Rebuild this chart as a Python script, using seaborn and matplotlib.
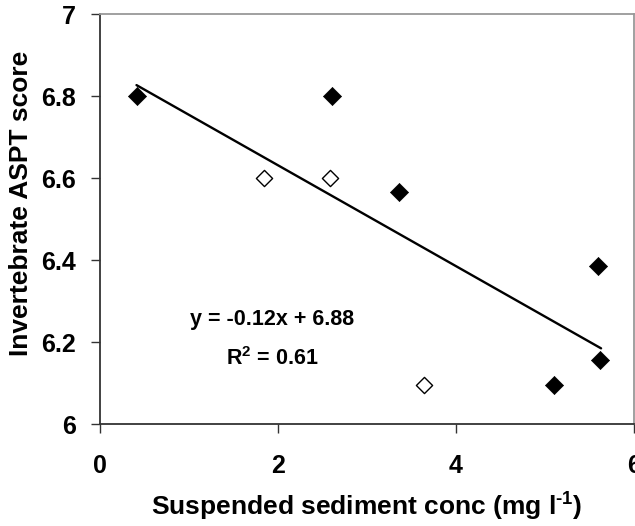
import numpy as np
import pandas as pd
import matplotlib
matplotlib.use("Agg")
import matplotlib.pyplot as plt
import seaborn as sns

# Sites (suspended sediment vs. ASPT score)
filled_x = [0.42, 2.61, 3.36, 5.10, 5.59, 5.62]
filled_y = [6.80, 6.80, 6.565, 6.095, 6.385, 6.155]
open_x = [1.84, 2.585, 3.645]
open_y = [6.60, 6.60, 6.095]

# Linear trend
slope = -0.123
intercept = 6.877
r_squared = 0.61
trend_range = [0.41, 5.63]

x_ticks = [0, 2, 4, 6]
y_ticks = [6.0, 6.2, 6.4, 6.6, 6.8, 7.0]
y_tick_labels = ["6", "6.2", "6.4", "6.6", "6.8", "7"]

sns.set_theme(style="white")
plt.rcParams["font.family"] = ["Liberation Sans", "DejaVu Sans"]
plt.rcParams["font.weight"] = "bold"
plt.rcParams["text.color"] = "black"
plt.rcParams["axes.labelcolor"] = "black"
plt.rcParams["xtick.labelcolor"] = "black"
plt.rcParams["ytick.labelcolor"] = "black"
plt.rcParams["mathtext.fontset"] = "custom"
plt.rcParams["mathtext.rm"] = "Liberation Sans:bold"
plt.rcParams["mathtext.it"] = "Liberation Sans:bold"
plt.rcParams["mathtext.bf"] = "Liberation Sans:bold"

fig = plt.figure(figsize=(6.35, 5.26), dpi=100)
ax = fig.add_axes([100 / 635, (526 - 424) / 526, 534 / 635, 410 / 526])

filled = pd.DataFrame({"x": filled_x, "y": filled_y})
hollow = pd.DataFrame({"x": open_x, "y": open_y})
trend = pd.DataFrame({"x": trend_range,
                      "y": [slope * v + intercept for v in trend_range]})

sns.lineplot(data=trend, x="x", y="y", ax=ax, color="black", linewidth=1.7)
sns.scatterplot(data=filled, x="x", y="y", ax=ax, marker="D", s=85,
                color="black", edgecolor="black", linewidth=0.5, zorder=3)
sns.scatterplot(data=hollow, x="x", y="y", ax=ax, marker="D", s=68,
                facecolor="white", edgecolor="black", linewidth=1.0, zorder=3)

ax.set_xlim(0, 6)
ax.set_ylim(6, 7)
ax.set_xticks(x_ticks)
ax.set_xticklabels([str(t) for t in x_ticks])
ax.set_yticks(y_ticks)
ax.set_yticklabels(y_tick_labels)

for side in ["left", "bottom"]:
    ax.spines[side].set_color("#333333")
    ax.spines[side].set_linewidth(1.3)
for side in ["top", "right"]:
    ax.spines[side].set_color("#999999")
    ax.spines[side].set_linewidth(1.3)

ax.tick_params(axis="y", direction="out", length=6.5, width=1.0,
               color="#333333", labelcolor="black", pad=11, labelsize=18,
               left=True)
ax.tick_params(axis="x", direction="out", length=6.5, width=1.0,
               color="#333333", labelcolor="black", pad=15, labelsize=18,
               bottom=True)
for lab in ax.get_xticklabels() + ax.get_yticklabels():
    lab.set_fontweight("bold")

ax.set_xlabel(r"Suspended sediment conc (mg l$^{\text{-}1}$)", fontsize=19,
              fontweight="bold", color="black")
ax.xaxis.set_label_coords(0.5, -0.162)
ax.set_ylabel("Invertebrate ASPT score", fontsize=19, fontweight="bold",
              color="black")
ax.yaxis.set_label_coords(-0.125, 0.539)

ax.text(1.93, 6.256, f"y = {slope:.2f}x + {intercept:.2f}", fontsize=15.5,
        fontweight="bold", ha="center", va="center", color="black")
ax.text(1.93, 6.16, f"R$^{{2}}$ = {r_squared:.2f}", fontsize=15.5,
        fontweight="bold", ha="center", va="center", color="black")

fig.savefig("out.png", dpi=100, facecolor="white")
